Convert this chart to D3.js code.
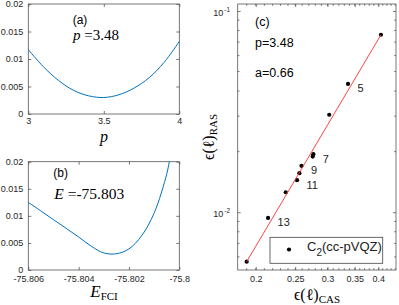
<!DOCTYPE html>
<html><head><meta charset="utf-8">
<script src="https://cdn.jsdelivr.net/npm/d3@7"></script>
<style>body{margin:0;background:#fff}svg{display:block}</style>
</head><body><svg id="c" width="399" height="305"></svg>
<script>
// ---- data ----
const pValues   = [3.0, 3.1, 3.2, 3.3, 3.4, 3.5, 3.6, 3.7, 3.8, 3.9, 4.0];
const errVsP    = [0.0117, 0.0086, 0.0061, 0.0043, 0.0033, 0.0030, 0.0035, 0.0047, 0.0066, 0.0094, 0.0132];
const eFci      = [-75.806, -75.8055, -75.805, -75.8045, -75.804, -75.8035, -75.803, -75.8025, -75.802, -75.8015, -75.801, -75.8005, -75.8004];
const errVsE    = [0.0125, 0.0109, 0.0093, 0.0077, 0.0061, 0.0044, 0.00315, 0.0030, 0.0039, 0.0063, 0.0105, 0.0177, 0.0200];
const casErr    = [0.406, 0.337, 0.303, 0.277, 0.276, 0.259, 0.256, 0.2526, 0.237, 0.2144, 0.190];
const rasErr    = [0.0762, 0.0434, 0.0305, 0.01944, 0.01891, 0.0170, 0.01563, 0.01443, 0.01257, 0.00937, 0.00568];
const pointTags = ["", "5", "", "7", "", "9", "", "11", "", "13", ""];
const fitCas    = [0.190, 0.406];
const fitRas    = [0.00568, 0.0762];
const ticksA_x = [3, 3.5, 4];            const ticksA_xLab = ["3", "3.5", "4"];
const ticksY   = [0, 0.005, 0.01, 0.015, 0.02];
const ticksY_lab = ["0", "0.005", "0.01", "0.015", "0.02"];
const ticksB_x = [-75.806, -75.804, -75.802, -75.8];
const ticksB_xLab = ["-75.806", "-75.804", "-75.802", "-75.8"];
const ticksC_x = [0.2, 0.25, 0.3, 0.35, 0.4];
const ticksC_xLab = ["0.2", "0.25", "0.3", "0.35", "0.4"];
const ticksC_y = [0.01, 0.1];
const ticksC_yExp = ["-2", "-1"];
const minorC_x = d3.range(19, 45).map(d => d / 100);
const minorC_y = [0.006, 0.007, 0.008, 0.009, 0.02, 0.03, 0.04, 0.05, 0.06, 0.07, 0.08, 0.09];

const svg = d3.select("#c");
const SANS = "Liberation Sans, Arial, Helvetica, sans-serif";
const SERIF = "Liberation Serif, DejaVu Serif, Times New Roman, serif";
const AX = "#555";
const BLUE = "#0072BD";

function frame(x, y, xt, xl, yt, yl, xpad) {
  const [x0, x1] = x.range(), [y1, y0] = y.range();
  const g = svg.append("g");
  g.append("rect").attr("x", x0).attr("y", y0).attr("width", x1 - x0).attr("height", y1 - y0)
    .attr("fill", "none").attr("stroke", AX).attr("stroke-width", 0.8);
  const b = g.append("g").attr("transform", `translate(0,${y1})`)
    .call(d3.axisBottom(x).tickValues(xt).tickSize(-3).tickSizeOuter(0).tickPadding(xpad)
      .tickFormat((d, i) => xl[i]));
  const t = g.append("g").attr("transform", `translate(0,${y0})`)
    .call(d3.axisTop(x).tickValues(xt).tickSize(-3).tickSizeOuter(0).tickFormat(""));
  const l = g.append("g").attr("transform", `translate(${x0},0)`)
    .call(d3.axisLeft(y).tickValues(yt).tickSize(-3).tickSizeOuter(0).tickPadding(5)
      .tickFormat((d, i) => yl ? yl[i] : ""));
  const r = g.append("g").attr("transform", `translate(${x1},0)`)
    .call(d3.axisRight(y).tickValues(yt).tickSize(-3).tickSizeOuter(0).tickFormat(""));
  [b, t, l, r].forEach(a => {
    a.select(".domain").remove();
    a.selectAll("line").attr("stroke", AX).attr("stroke-width", 0.8);
    a.selectAll("text").attr("font-family", SANS).attr("font-size", 9).attr("fill", "#262626");
  });
  return g;
}

// ---- panel (a) ----
const xa = d3.scaleLinear().domain([3, 4]).range([28.3, 179.3]);
const ya = d3.scaleLinear().domain([0, 0.02]).range([114, 4]);
frame(xa, ya, ticksA_x, ticksA_xLab, ticksY, ticksY_lab, 4);
svg.append("path").datum(pValues.map((p, i) => [p, errVsP[i]]))
  .attr("fill", "none").attr("stroke", BLUE).attr("stroke-width", 1)
  .attr("d", d3.line().x(d => xa(d[0])).y(d => ya(d[1])).curve(d3.curveCatmullRom));
svg.append("text").attr("x", 72.7).attr("y", 23.5).attr("font-family", SANS).attr("font-size", 12).text("(a)");
const ta = svg.append("text").attr("x", 73).attr("y", 39.5).attr("font-family", SERIF).attr("font-size", 15);
ta.append("tspan").attr("font-style", "italic").text("p");
ta.append("tspan").text(" =3.48");
svg.append("text").attr("x", 104).attr("y", 142).attr("text-anchor", "middle")
  .attr("font-family", SERIF).attr("font-style", "italic").attr("font-size", 16).text("p");

// ---- panel (b) ----
const xb = d3.scaleLinear().domain([-75.806, -75.8]).range([28.3, 179.3]);
const yb = d3.scaleLinear().domain([0, 0.02]).range([270, 161.7]);
frame(xb, yb, ticksB_x, ticksB_xLab, ticksY, ticksY_lab, 6);
svg.append("path").datum(eFci.map((e, i) => [e, errVsE[i]]))
  .attr("fill", "none").attr("stroke", BLUE).attr("stroke-width", 1)
  .attr("d", d3.line().x(d => xb(d[0])).y(d => yb(d[1])).curve(d3.curveCatmullRom));
svg.append("text").attr("x", 53.3).attr("y", 177).attr("font-family", SANS).attr("font-size", 12).text("(b)");
const tb = svg.append("text").attr("x", 54.3).attr("y", 198.5).attr("font-family", SERIF).attr("font-size", 15.5);
tb.append("tspan").attr("font-style", "italic").text("E");
tb.append("tspan").text(" =-75.803");
const xlb = svg.append("text").attr("x", 104).attr("y", 296.7).attr("text-anchor", "middle").attr("font-family", SERIF);
xlb.append("tspan").attr("font-style", "italic").attr("font-size", 17).text("E");
xlb.append("tspan").attr("font-size", 11).attr("dy", 3).text("FCI");

// ---- panel (c) ----
const xc = d3.scaleLog().domain([0.1806, 0.442]).range([237.7, 396]);
const yc = d3.scaleLog().domain([0.005164, 0.1083]).range([270, 4]);
frame(xc, yc, ticksC_x, ticksC_xLab, ticksC_y, null, 6);
const mg = svg.append("g").attr("stroke", AX).attr("stroke-width", 0.8);
minorC_x.forEach(v => {
  mg.append("line").attr("x1", xc(v)).attr("x2", xc(v)).attr("y1", 270).attr("y2", 268.2);
  mg.append("line").attr("x1", xc(v)).attr("x2", xc(v)).attr("y1", 4).attr("y2", 5.8);
});
minorC_y.forEach(v => {
  mg.append("line").attr("x1", 237.7).attr("x2", 239.5).attr("y1", yc(v)).attr("y2", yc(v));
  mg.append("line").attr("x1", 396).attr("x2", 394.2).attr("y1", yc(v)).attr("y2", yc(v));
});
ticksC_y.forEach((v, i) => {
  const t = svg.append("text").attr("x", 230).attr("y", yc(v) + 5).attr("text-anchor", "end")
    .attr("font-family", SANS).attr("fill", "#262626");
  t.append("tspan").attr("font-size", 9).text("10");
  t.append("tspan").attr("font-size", 6.5).attr("dy", -4).attr("dx", 1).text(ticksC_yExp[i]);
});
svg.append("g").selectAll("circle").data(casErr).join("circle")
  .attr("cx", d => xc(d)).attr("cy", (d, i) => yc(rasErr[i])).attr("r", 2.1).attr("fill", "#000");
svg.append("path").datum(fitCas.map((c, i) => [c, fitRas[i]]))
  .attr("fill", "none").attr("stroke", "#ff3030").attr("stroke-width", 0.9)
  .attr("d", d3.line().x(d => xc(d[0])).y(d => yc(d[1])));
svg.append("g").selectAll("text").data(casErr).join("text")
  .attr("x", d => xc(d) + 9.5).attr("y", (d, i) => yc(rasErr[i]) + 8.5)
  .attr("font-family", SANS).attr("font-size", 11).attr("fill", "#222")
  .text((d, i) => pointTags[i]);
svg.append("text").attr("x", 255).attr("y", 25.5).attr("font-family", SANS).attr("font-size", 12.5).text("(c)");
svg.append("text").attr("x", 255).attr("y", 47.3).attr("font-family", SANS).attr("font-size", 12.5).text("p=3.48");
svg.append("text").attr("x", 255).attr("y", 76.7).attr("font-family", SANS).attr("font-size", 12.5).text("a=0.66");
svg.append("rect").attr("x", 270).attr("y", 237.3).attr("width", 112.7).attr("height", 26)
  .attr("fill", "#fff").attr("stroke", "#444").attr("stroke-width", 0.8);
svg.append("circle").attr("cx", 289).attr("cy", 249.5).attr("r", 2.1).attr("fill", "#000");
const lt = svg.append("text").attr("x", 307).attr("y", 250.5).attr("font-family", SANS).attr("font-size", 13).attr("fill", "#222");
lt.append("tspan").text("C");
lt.append("tspan").attr("font-size", 10).attr("dy", 5).text("2");
lt.append("tspan").attr("dy", -5).text("(cc-pVQZ)");
const xlc = svg.append("text").attr("x", 317).attr("y", 300).attr("text-anchor", "middle").attr("font-family", SERIF).attr("font-size", 16);
xlc.append("tspan").text("ϵ(ℓ)");
xlc.append("tspan").attr("font-size", 11).attr("dy", 3).text("CAS");
const ylc = svg.append("text").attr("transform", "translate(214,137) rotate(-90)").attr("text-anchor", "middle")
  .attr("font-family", SERIF).attr("font-size", 16);
ylc.append("tspan").text("ϵ(ℓ)");
ylc.append("tspan").attr("font-size", 11).attr("dy", 3).text("RAS");
</script>
</body></html>
